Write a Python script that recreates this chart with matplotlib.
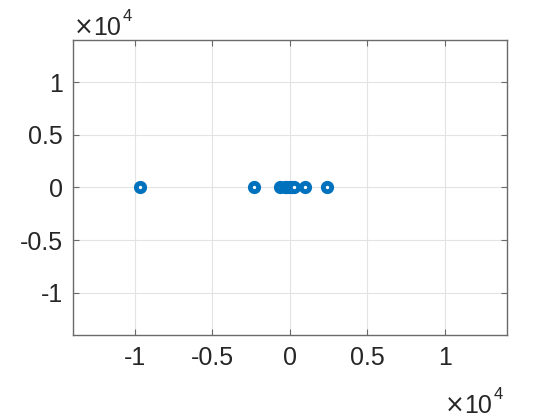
import numpy as np
import matplotlib
matplotlib.use('Agg')
import matplotlib.pyplot as plt
from matplotlib.ticker import FuncFormatter

re_vals = [-9680, -2340, -650, -300, -150, 0, 150, 300, 970, 2400]
im_vals = [0, 0, 0, 0, 0, 0, 0, 0, 0, 0]
ticks = [-10000, -5000, 0, 5000, 10000]

plt.rcParams['font.family'] = ['Liberation Sans', 'DejaVu Sans']
plt.rcParams['axes.unicode_minus'] = False

W, H = 560, 420
fig = plt.figure(figsize=(5.6, 4.2), dpi=100)
ax = fig.add_axes([0.130, 0.2024, 0.775, 0.7024])

ax.plot(re_vals, im_vals, 'o', color='#0072BD', markersize=6,
        markeredgewidth=3.5, markerfacecolor='white', linestyle='none', zorder=3)

ax.set_xlim(-14000, 14000)
ax.set_ylim(-14000, 14000)
ax.set_xticks(ticks)
ax.set_yticks(ticks)
fmt = FuncFormatter(lambda v, p: ('%g' % (v / 1e4)))
ax.xaxis.set_major_formatter(fmt)
ax.yaxis.set_major_formatter(fmt)

ax.grid(True, color='#e3e3e3', linewidth=0.8)
ax.set_axisbelow(True)
for pos in ['left', 'right', 'top', 'bottom']:
    ax.spines[pos].set_color('#6a6a6a')
    ax.spines[pos].set_linewidth(1.0)
ax.tick_params(direction='in', length=4, width=0.8, colors='#6a6a6a',
               top=True, right=True, labelsize=18, labelcolor='#262626')
ax.tick_params(axis='x', pad=8)
ax.tick_params(axis='y', pad=7)

# exponent labels (pixel positions)
def exp_label(x0, base):
    fig.text(x0 / W, 1 - base / H, '×', fontsize=17, family='DejaVu Sans',
             color='#262626', ha='left', va='baseline')
    fig.text((x0 + 19) / W, 1 - base / H, '10', fontsize=18,
             color='#262626', ha='left', va='baseline')
    fig.text((x0 + 49) / W, 1 - (base - 14) / H, '4', fontsize=12,
             color='#262626', ha='left', va='baseline')

exp_label(74, 35)
exp_label(445, 413)

plt.savefig('out.png', dpi=100)
